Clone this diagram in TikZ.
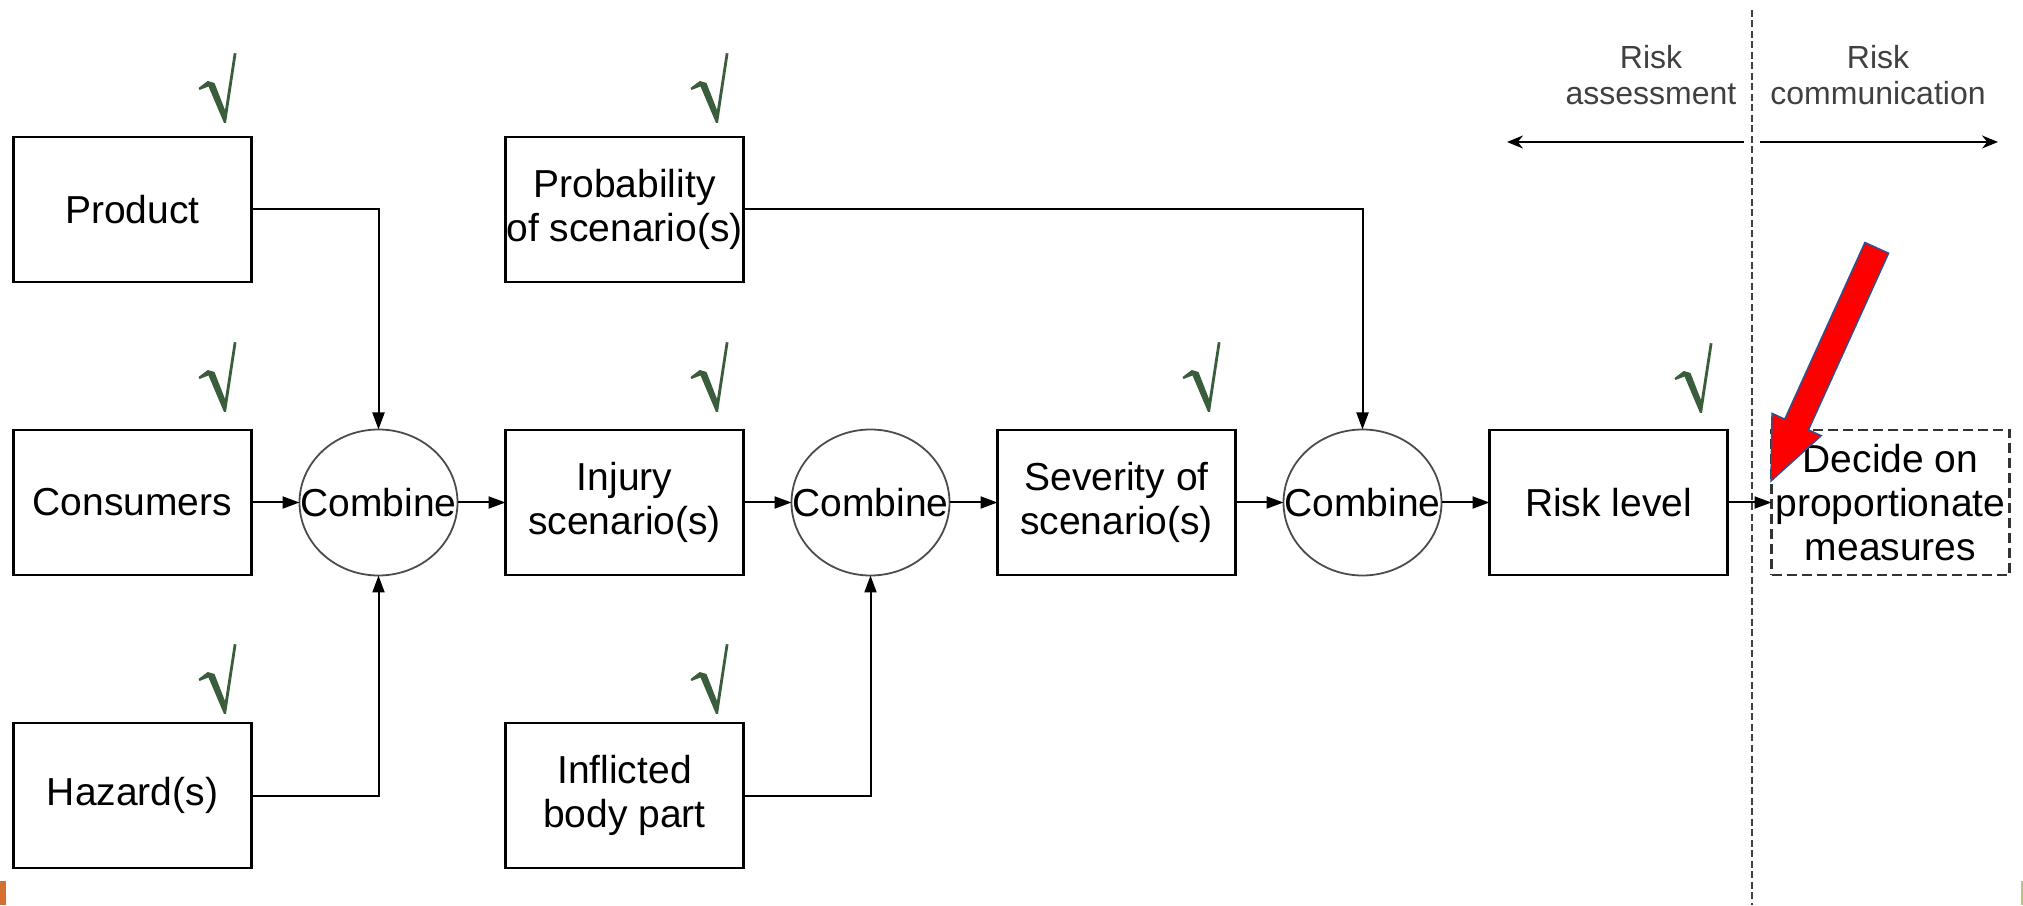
\documentclass[tikz,border=0pt]{standalone}
\usepackage{fontspec}
\setmainfont{Liberation Sans}
\usepackage{tikz}
\usetikzlibrary{positioning, arrows.meta, calc, shapes.geometric}
\definecolor{tickgreen}{RGB}{58,94,60}
\definecolor{slideorange}{RGB}{214,112,48}
\definecolor{slidelime}{RGB}{186,196,120}
\definecolor{arrowedge}{RGB}{47,82,143}
\newcommand{\boxfont}{\fontsize{39}{44}\selectfont}
\newcommand{\phasefont}{\fontsize{32}{36}\selectfont}

\begin{document}
\begin{tikzpicture}[
  x=1pt, y=1pt,
  node distance=148pt and 48pt,
  box/.style={draw, line width=2.4pt, outer sep=0pt, inner sep=0pt,
              minimum width=238pt, minimum height=145pt, align=center, font=\boxfont},
  combiner/.style={ellipse, draw=black!70, line width=1.8pt, outer sep=0pt,
              inner sep=0pt, minimum width=158pt, minimum height=146pt, font=\boxfont},
  flow/.style={line width=2pt, -{Triangle[length=17pt,width=12pt]}},
  okmark/.pic={\fill[tickgreen] (-26,35) -- (-16.7,42) -- (-10,40) -- (0.5,13)
     -- (9.3,70) -- (12,69.5) -- (1.5,0) -- (-0.5,0) -- (-16,36.5) -- (-25,33) -- cycle;}
]
  \useasboundingbox (0,0) rectangle (2023,905);

  % Inputs on the left
  \node[box] (consumers) at (132.5,402.5) {Consumers};
  \node[box, above=of consumers] (product) {Product};
  \node[box, below=of consumers] (hazard) {Hazard(s)};

  % First combination
  \node[combiner, right=of consumers] (combA) {\makebox[0pt]{Combine}};
  \node[box, right=of combA] (injury) {Injury\\scenario(s)};
  \node[box, above=of injury] (prob) {Probability\\of scenario(s)};
  \node[box, below=of injury] (body) {Inflicted\\body part};

  % Second and third combination
  \node[combiner, right=of injury] (combB) {\makebox[0pt]{Combine}};
  \node[box, right=of combB] (severity) {Severity of\\scenario(s)};
  \node[combiner, right=of severity] (combC) {\makebox[0pt]{Combine}};
  \node[box, right=of combC] (risk) {Risk level};
  \node[box, dashed, dash pattern=on 10pt off 5pt, draw=black!80,
        right=44pt of risk] (decide) {Decide on\\proportionate\\measures};

  % Arrows
  \draw[flow] (consumers) -- (combA);
  \draw[flow] (product) -| (combA);
  \draw[flow] (hazard) -| (combA);
  \draw[flow] (combA) -- (injury);
  \draw[flow] (injury) -- (combB);
  \draw[flow] (body) -| (combB);
  \draw[flow] (combB) -- (severity);
  \draw[flow] (severity) -- (combC);
  \draw[flow] (prob) -| (combC);
  \draw[flow] (combC) -- (risk);
  \draw[flow] (risk) -- (decide);

  % Ticks
  \foreach \b/\h in {product/14, consumers/18, hazard/9, prob/14,
                     injury/18, body/9, severity/18, risk/17}
    \pic at ($(\b.north east)+(-27,\h)$) {okmark};

  % Phase divider
  \coordinate (divtop) at (1752,895);
  \coordinate (divbot) at (1752,0);
  \draw[black!75, line width=2pt, dash pattern=on 7pt off 3.5pt] (divtop) -- (divbot);

  \node[font=\phasefont, text=black!75, align=center] (assess) at (1651,830)
    {Risk\\assessment};
  \node[font=\phasefont, text=black!75, align=center] (commun) at (1878,830)
    {Risk\\communication};

  \coordinate (assessL) at (1507,763);
  \coordinate (assessR) at (1744,763);
  \coordinate (communL) at (1760,763);
  \coordinate (communR) at (1998,763);
  \draw[line width=2pt, -{Stealth[length=16pt,width=13pt]}] (assessR) -- (assessL);
  \draw[line width=2pt, -{Stealth[length=16pt,width=13pt]}] (communL) -- (communR);

  % Red pointer
  \coordinate (hint) at (1771,424);
  \begin{scope}[shift={(hint)}, rotate=65.6]
    \filldraw[fill=red, draw=arrowedge, line width=1.5pt]
      (0,0) -- (62,27) -- (62,13) -- (256,13) -- (256,-13)
      -- (62,-13) -- (62,-27) -- cycle;
  \end{scope}

  % Slide edges
  \fill[slideorange] (0,0) rectangle (6,24);
  \fill[slidelime] (2021,0) rectangle (2023,24);
\end{tikzpicture}
\end{document}
